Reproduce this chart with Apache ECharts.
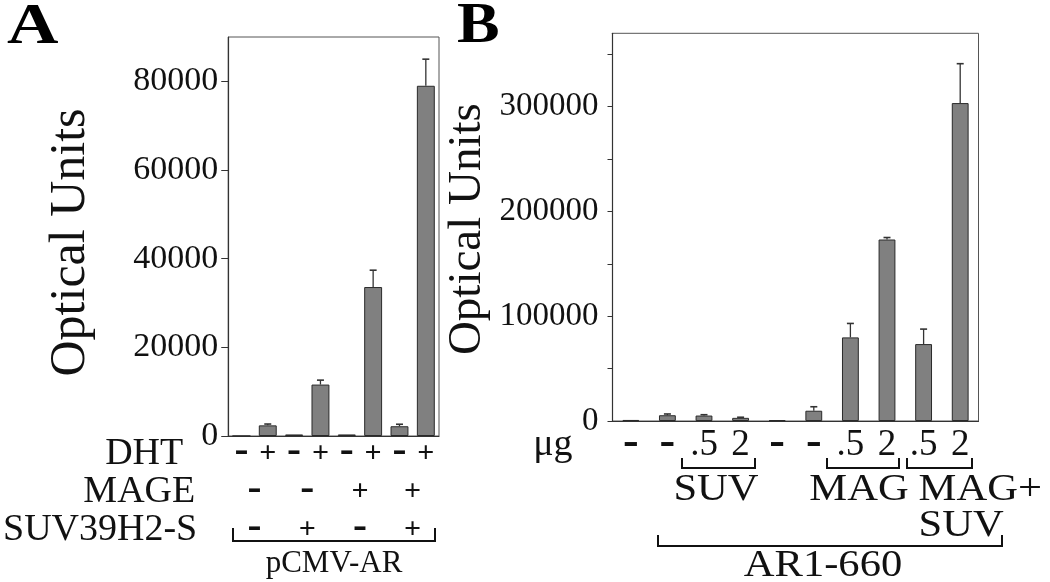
<!DOCTYPE html>
<html>
<head>
<meta charset="utf-8">
<script src="https://cdn.jsdelivr.net/npm/echarts@6/dist/echarts.min.js"></script>
<style>
html,body{margin:0;padding:0;background:#fff;}
#c{width:1050px;height:582px;}
</style>
</head>
<body>
<div id="c"></div>
<script>
// ---- Panel A data ----
const dhtA = ['-', '+', '-', '+', '-', '+', '-', '+'];
const mageA = ['-', '-', '+', '+'];
const suvA = ['-', '+', '-', '+'];
const valuesA = [0, 2400, 350, 11600, 350, 33600, 2200, 79000];
const errorsA = [0, 300, 0, 1000, 0, 3800, 450, 6000];
const yTicksA = [0, 20000, 40000, 60000, 80000];

// ---- Panel B data ----
const doseB = ['-', '-', '.5', '2', '-', '-', '.5', '2', '.5', '2'];
const valuesB = [1000, 5500, 5200, 3000, 800, 9800, 79800, 173200, 73400, 303400];
const errorsB = [0, 1200, 800, 600, 0, 3800, 13300, 1900, 14300, 37600];
const yTicksB = [0, 50000, 100000, 150000, 200000, 250000, 300000, 350000];
const yLabelsB = [0, 100000, 200000, 300000];

const SERIF = '"Liberation Serif", "Times New Roman", serif';
const INK = '#111';
const BAR = '#808080';

const chart = echarts.init(document.getElementById('c'), null, {renderer: 'canvas'});

function signRich(size) {
  return {
    m: {fontFamily: SERIF, fontWeight: 'bold', fontSize: size + 10, color: INK, padding: [0, 0, 5, 0]},
    p: {fontFamily: SERIF, fontWeight: 'bold', fontSize: size - 2, color: INK},
    n: {fontFamily: SERIF, fontSize: size, color: INK}
  };
}
function signFmt(arr) {
  return function (v, i) {
    const s = arr[i];
    if (s === '-') return '{m|-}';
    if (s === '+') return '{p|+}';
    return '{n|' + s + '}';
  };
}
function rowAxis(grid, arr, offset, name, gap, size) {
  return {
    type: 'category', gridIndex: grid, position: 'bottom', offset: offset,
    data: arr.map((_, i) => 'k' + i),
    axisLine: {show: false}, axisTick: {show: false},
    axisLabel: {interval: 0, margin: 0, verticalAlign: 'middle', formatter: signFmt(arr), rich: signRich(size)},
    name: name, nameLocation: 'start', nameGap: gap,
    nameTextStyle: {fontFamily: SERIF, fontSize: 38, color: INK, align: 'right', verticalAlign: 'middle'}
  };
}
function plain(v) { return String(v); }
function errItem(params, api) {
  const i = api.value(0), v = api.value(1), e = api.value(2);
  if (!(e > 0)) return null;
  const p0 = api.coord([i, v]);
  const p1 = api.coord([i, v + e]);
  return {
    type: 'group',
    children: [
      {type: 'line', shape: {x1: p0[0], y1: p0[1], x2: p1[0], y2: p1[1]}, style: {stroke: '#333', lineWidth: 1.3}},
      {type: 'line', shape: {x1: p1[0] - 3.5, y1: p1[1], x2: p1[0] + 3.5, y2: p1[1]}, style: {stroke: '#333', lineWidth: 1.6}}
    ]
  };
}

const option = {
  backgroundColor: '#fff',
  animation: false,
  grid: [
    {left: 228, top: 37, width: 211, height: 399, show: true, borderColor: '#555', borderWidth: 1, backgroundColor: 'transparent'},
    {left: 612.5, top: 33.3, width: 366, height: 387.7, show: true, borderColor: '#555', borderWidth: 1, backgroundColor: 'transparent'}
  ],
  xAxis: [
    {type: 'category', gridIndex: 0, data: dhtA.map((_, i) => 'a' + i),
     axisLine: {show: true, lineStyle: {color: '#333', width: 1.2}}, axisTick: {show: false}, axisLabel: {show: false}},
    rowAxis(0, dhtA, 18, 'DHT', 45, 32),
    rowAxis(0, mageA, 56, 'MAGE', 33, 32),
    rowAxis(0, suvA, 94, 'SUV39H2-S', 31, 32),
    {type: 'category', gridIndex: 1, data: doseB.map((_, i) => 'b' + i),
     axisLine: {show: true, lineStyle: {color: '#333', width: 1.2}}, axisTick: {show: false}, axisLabel: {show: false}},
    rowAxis(1, doseB, 24, 'μg', 40, 37)
  ],
  yAxis: [
    {type: 'value', gridIndex: 0, min: 0, max: 90000, interval: 20000,
     axisLine: {show: true, lineStyle: {color: '#333', width: 1.2}},
     axisTick: {show: true, length: 7, customValues: yTicksA, lineStyle: {color: '#333'}},
     axisLabel: {customValues: yTicksA, formatter: plain, margin: 10, padding: [14, 0, 0, 0], fontFamily: SERIF, fontSize: 34, color: INK},
     splitLine: {show: false},
     name: 'Optical Units', nameLocation: 'middle', nameGap: 132,
     nameTextStyle: {fontFamily: SERIF, fontSize: 50, color: INK, padding: [0, 12, 0, 0]}},
    {type: 'value', gridIndex: 1, min: 0, max: 370000, interval: 50000,
     axisLine: {show: true, lineStyle: {color: '#333', width: 1.2}},
     axisTick: {show: true, length: 5, customValues: yTicksB, lineStyle: {color: '#333'}},
     axisLabel: {customValues: yLabelsB, formatter: plain, margin: 14, fontFamily: SERIF, fontSize: 33, color: INK},
     splitLine: {show: false},
     name: 'Optical Units', nameLocation: 'middle', nameGap: 121,
     nameTextStyle: {fontFamily: SERIF, fontSize: 47, color: INK, padding: [0, 4, 0, 0]}}
  ],
  series: [
    {type: 'bar', xAxisIndex: 0, yAxisIndex: 0, data: valuesA, barWidth: '68%',
     itemStyle: {color: BAR, borderColor: '#2a2a2a', borderWidth: 1}},
    {type: 'custom', xAxisIndex: 0, yAxisIndex: 0, renderItem: errItem, encode: {x: 0, y: 1},
     data: valuesA.map((v, i) => [i, v, errorsA[i]]), z: 5},
    {type: 'bar', xAxisIndex: 4, yAxisIndex: 1, data: valuesB, barWidth: '46%',
     itemStyle: {color: BAR, borderColor: '#2a2a2a', borderWidth: 1}},
    {type: 'custom', xAxisIndex: 4, yAxisIndex: 1, renderItem: errItem, encode: {x: 0, y: 1},
     data: valuesB.map((v, i) => [i, v, errorsB[i]]), z: 5}
  ],
  graphic: [
    {type: 'text', x: 7, y: 28.5, scaleX: 1.25,
     style: {text: 'A', font: 'bold 57px ' + SERIF, fill: '#000', textAlign: 'left', textVerticalAlign: 'middle'}},
    {type: 'text', x: 457, y: 27.5, scaleX: 1.12,
     style: {text: 'B', font: 'bold 57px ' + SERIF, fill: '#000', textAlign: 'left', textVerticalAlign: 'middle'}},
    // panel A bracket
    {type: 'polyline', shape: {points: [[233, 528], [233, 541], [435, 541], [435, 528]]}, style: {stroke: INK, lineWidth: 2, fill: 'none'}},
    {type: 'text', x: 334, y: 564, style: {text: 'pCMV-AR', font: '31px ' + SERIF, fill: INK, textAlign: 'center', textVerticalAlign: 'middle'}},
    // panel B brackets
    {type: 'polyline', shape: {points: [[682, 458], [682, 468], [755, 468], [755, 458]]}, style: {stroke: INK, lineWidth: 2, fill: 'none'}},
    {type: 'polyline', shape: {points: [[827, 458], [827, 468], [899, 468], [899, 458]]}, style: {stroke: INK, lineWidth: 2, fill: 'none'}},
    {type: 'polyline', shape: {points: [[907, 458], [907, 468], [972, 468], [972, 458]]}, style: {stroke: INK, lineWidth: 2, fill: 'none'}},
    {type: 'polyline', shape: {points: [[658, 535], [658, 546], [1002, 546], [1002, 535]]}, style: {stroke: INK, lineWidth: 2, fill: 'none'}},
    {type: 'text', x: 716, y: 490, scaleX: 1.12, style: {text: 'SUV', font: '38px ' + SERIF, fill: INK, textAlign: 'center', textVerticalAlign: 'middle'}},
    {type: 'text', x: 859, y: 490, scaleX: 1.12, style: {text: 'MAG', font: '38px ' + SERIF, fill: INK, textAlign: 'center', textVerticalAlign: 'middle'}},
    {type: 'text', x: 918.6, y: 490, scaleX: 1.12, style: {text: 'MAG+', font: '38px ' + SERIF, fill: INK, textAlign: 'left', textVerticalAlign: 'middle'}},
    {type: 'text', x: 918.6, y: 526, scaleX: 1.12, style: {text: 'SUV', font: '38px ' + SERIF, fill: INK, textAlign: 'left', textVerticalAlign: 'middle'}},
    {type: 'text', x: 823, y: 566, scaleX: 1.12, style: {text: 'AR1-660', font: '38px ' + SERIF, fill: INK, textAlign: 'center', textVerticalAlign: 'middle'}}
  ]
};
chart.setOption(option);
</script>
</body>
</html>
